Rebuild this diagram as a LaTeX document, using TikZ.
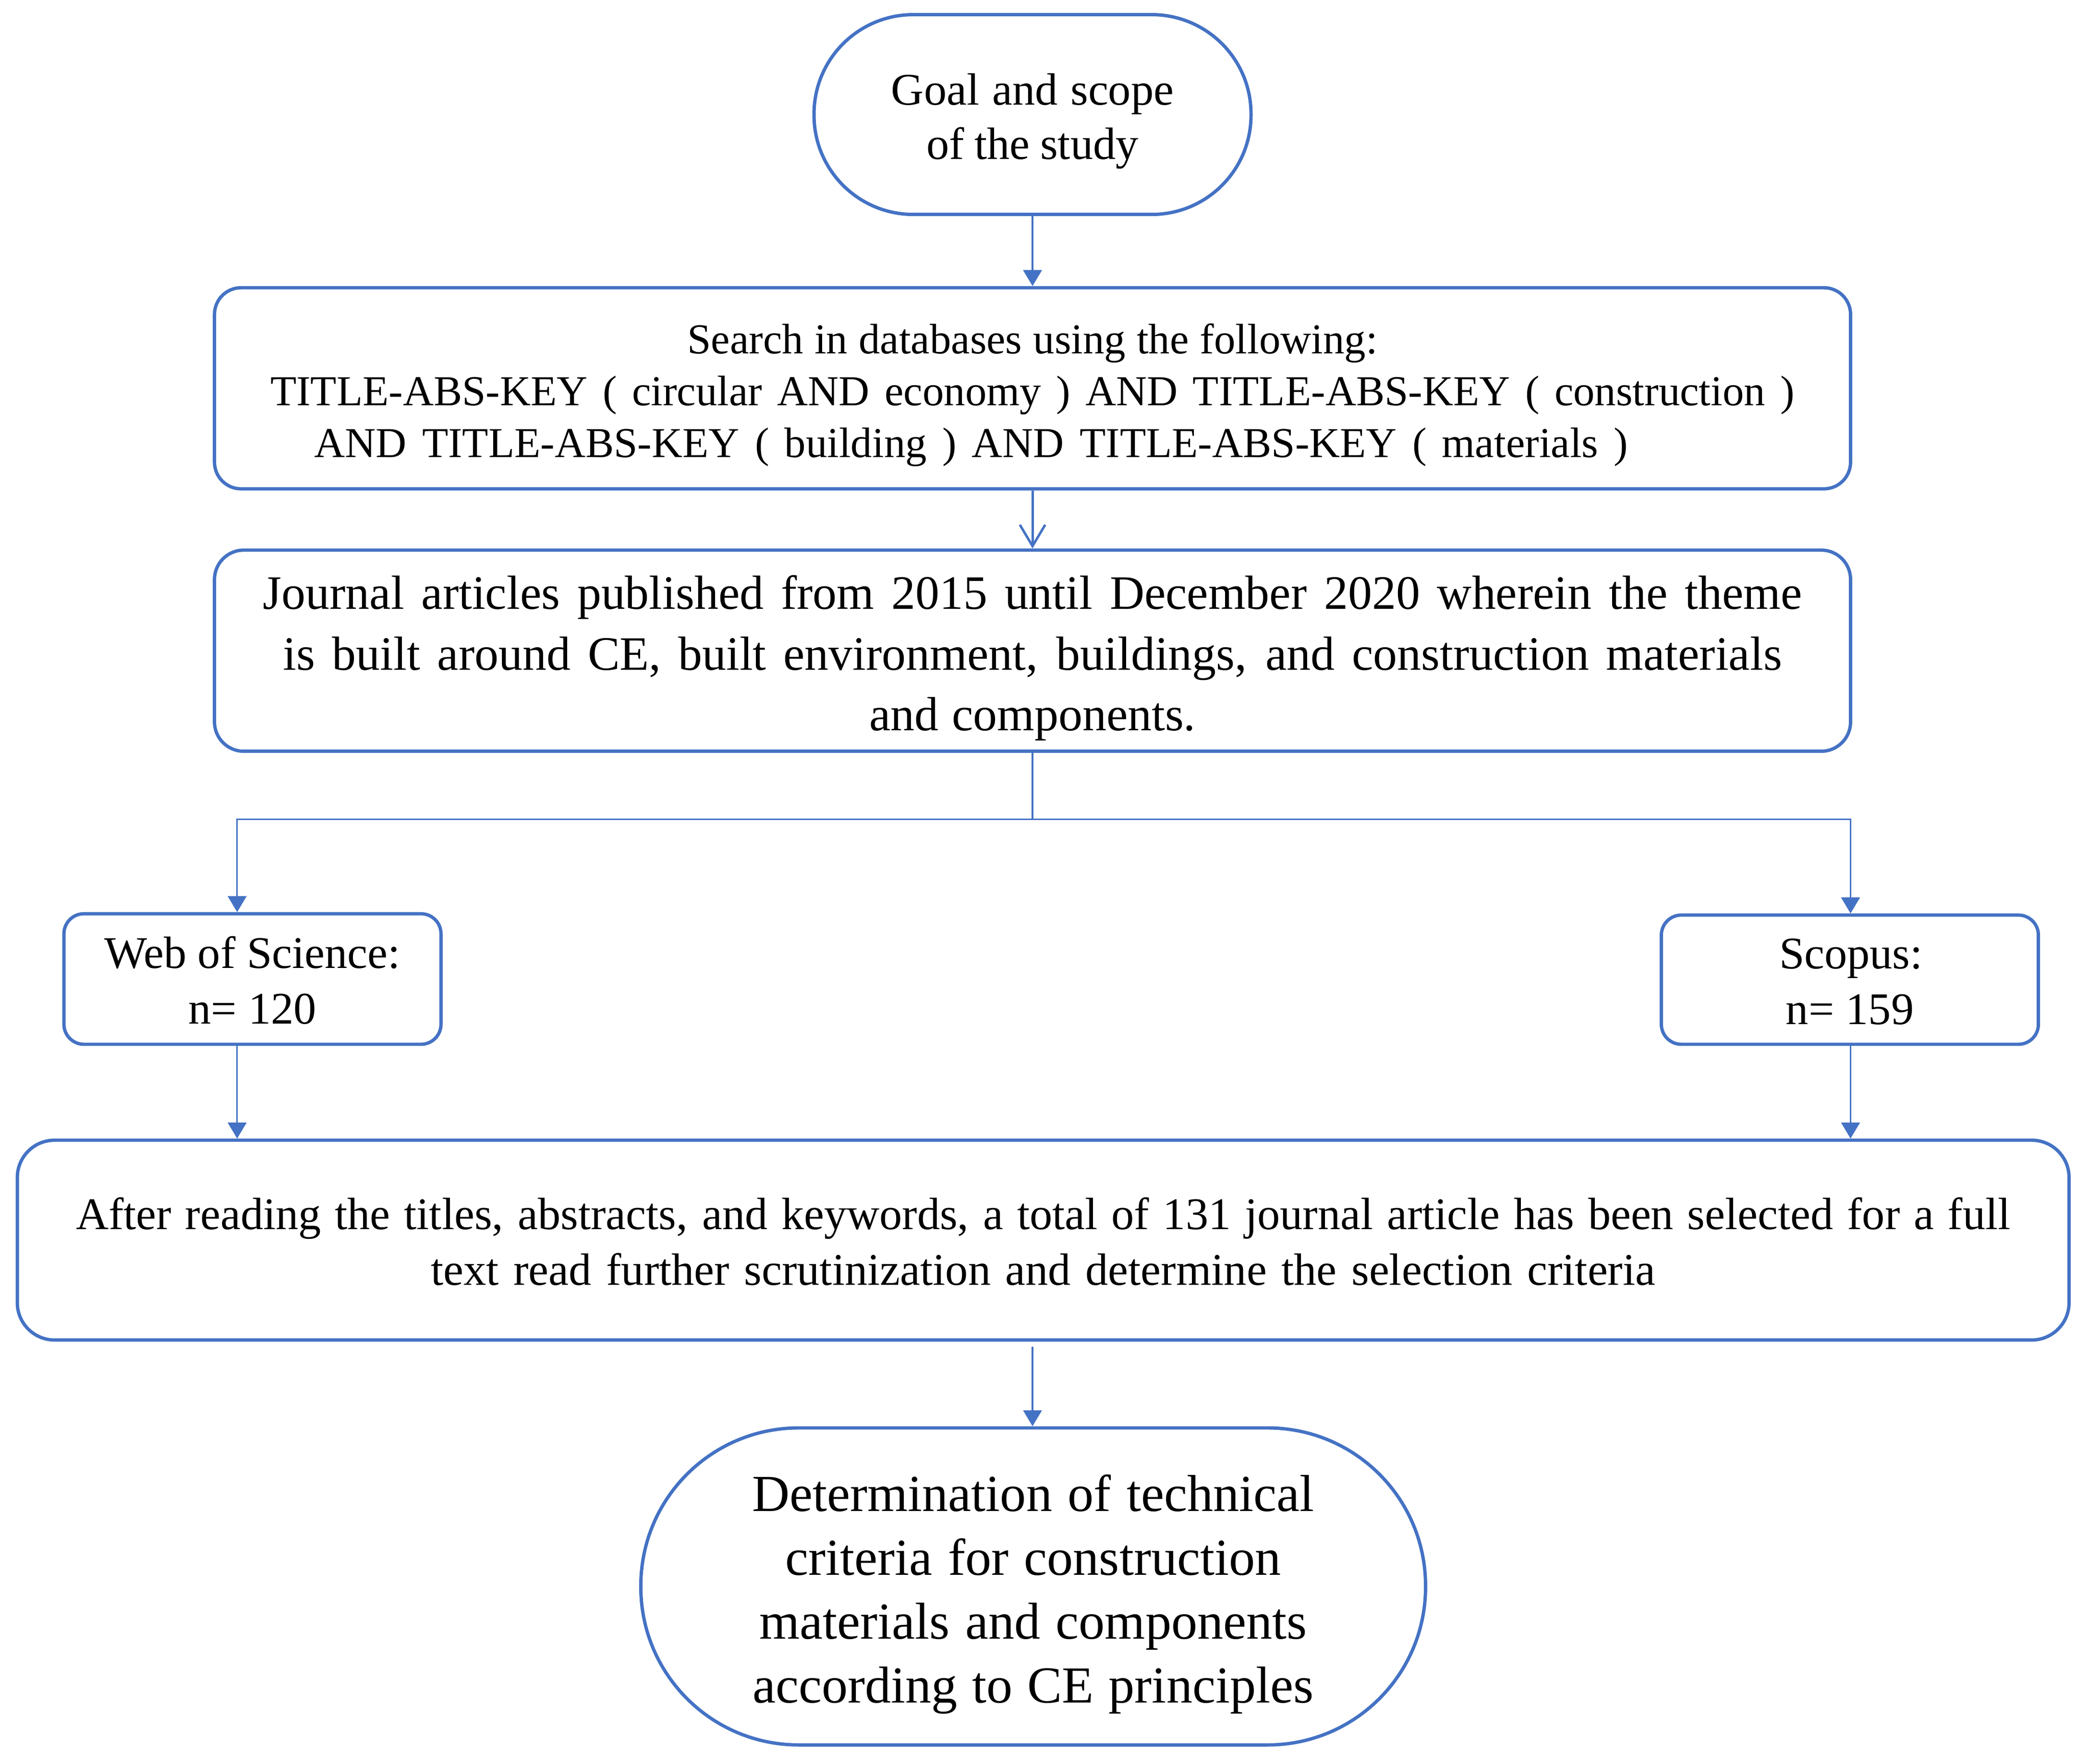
\documentclass[tikz,border=0pt]{standalone}
\usepackage{fontspec}
\setmainfont{Liberation Serif}
\usetikzlibrary{arrows.meta,calc}
\definecolor{bl}{HTML}{4472C4}
\newcommand{\Lw}[2]{\makebox[#1pt][s]{#2}}
\begin{document}
\begin{tikzpicture}[x=1pt,y=-1pt,
  box/.style={draw=bl, line width=2.5pt, inner sep=0pt},
  txt/.style={inner sep=0pt, align=center, text=black},
  arr/.style={draw=bl, line width=1.2pt, -{Triangle[width=14pt,length=12pt]}},
  varr/.style={draw=bl, line width=1.8pt, -{Straight Barb[width=19pt,length=16pt]}},
  ln/.style={draw=bl, line width=1.2pt}]
\useasboundingbox[fill=white] (0,0) rectangle (1568,1324);

% boxes
\node[box, rounded corners=74.5pt, minimum width=328pt, minimum height=150pt] (goal) at (775,86) {};
\node[box, rounded corners=20pt, minimum width=1228pt, minimum height=151pt] (search) at (775,291.5) {};
\node[box, rounded corners=22pt, minimum width=1228pt, minimum height=151pt] (jour) at (775,488.5) {};
\node[box, rounded corners=15pt, minimum width=283pt, minimum height=98pt] (web) at (189.5,735) {};
\node[box, rounded corners=15pt, minimum width=283pt, minimum height=97pt] (scop) at (1388.5,735.5) {};
\node[box, rounded corners=28pt, minimum width=1540pt, minimum height=150pt] (after) at (783,931) {};
\node[box, rounded corners=118.5pt, minimum width=589pt, minimum height=238pt] (det) at (775.5,1191) {};

% texts
\node[txt, font=\fontsize{34}{41}\selectfont] (goalt) at ([yshift=-5pt]goal.center)
  {\Lw{212}{Goal and scope}\\ \Lw{159}{of the study}};
\node[txt, font=\fontsize{32}{39}\selectfont] (searcht) at ([yshift=-5pt]search.center)
  {\Lw{518}{Search in databases using the following:}\\
   \Lw{1144}{TITLE-ABS-KEY ( circular AND economy ) AND TITLE-ABS-KEY ( construction )}\\
   \makebox[1078pt][l]{\Lw{986}{AND TITLE-ABS-KEY ( building ) AND TITLE-ABS-KEY ( materials )}}};
\node[txt, font=\fontsize{36}{45.5}\selectfont] (jourt) at ([yshift=-5.5pt]jour.center)
  {\Lw{1155}{Journal articles published from 2015 until December 2020 wherein the theme}\\
   \Lw{1125}{is built around CE, built environment, buildings, and construction materials}\\
   \Lw{245}{and components.}};
\node[txt, font=\fontsize{34}{42}\selectfont] (webt) at ([yshift=-1pt]web.center)
  {\Lw{222}{Web of Science:}\\ \Lw{96}{n= 120}};
\node[txt, font=\fontsize{34}{42}\selectfont] (scopt) at ([yshift=-1.5pt]scop.center)
  {\Lw{106}{Scopus:}\\ \Lw{96}{n= 159}};
\node[txt, font=\fontsize{34}{42}\selectfont] (aftert) at ([yshift=-1pt]after.center)
  {\Lw{1452}{After reading the titles, abstracts, and keywords, a total of 131 journal article has been selected for a full}\\
   \Lw{919}{text read further scrutinization and determine the selection criteria}};
\node[txt, font=\fontsize{39}{48}\selectfont] (dett) at ([yshift=-6pt]det.center)
  {\Lw{422}{Determination of technical}\\
   \Lw{372}{criteria for construction}\\
   \Lw{411}{materials and components}\\
   \Lw{421}{according to CE principles}};

% connectors
\coordinate (cx) at (775,0);
\coordinate (wx) at (178,0);
\coordinate (sx) at (1389,0);
\coordinate (sp) at (775,615);

\draw[arr] (goal) -- (search);
\draw[varr] (search) -- (jour);
\draw[ln] (jour.south) -- (sp);
\draw[arr] (sp) -| (wx |- web.north);
\draw[arr] (sp) -| (sx |- scop.north);
\draw[arr] (wx |- web.south) -- (wx |- after.north);
\draw[arr] (sx |- scop.south) -- (sx |- after.north);
\draw[arr] ($(cx |- after.south)+(0,4)$) -- (cx |- det.north);
\end{tikzpicture}
\end{document}
